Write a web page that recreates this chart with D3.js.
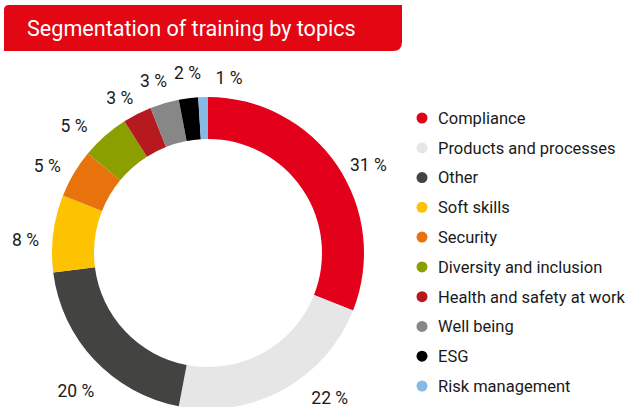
<!DOCTYPE html>
<html>
<head>
<meta charset="utf-8">
<script src="https://cdn.jsdelivr.net/npm/d3@7"></script>
<style>
	body { margin: 0; background: #fff; }
	svg { display: block; }
	text { font-family: Roboto, "Open Sans", sans-serif; }
</style>
</head>
<body>
<svg id="chart" width="627" height="407"></svg>
<script>
const title = "Segmentation of training by topics";
const topics = ["Compliance", "Products and processes", "Other", "Soft skills", "Security",
	"Diversity and inclusion", "Health and safety at work", "Well being", "ESG", "Risk management"];
const shares = [31, 22, 20, 8, 5, 5, 3, 3, 2, 1];
const colours = ["#e2001a", "#e6e6e6", "#434341", "#fdc300", "#e8730c",
	"#8b9f00", "#b61a1f", "#878787", "#000000", "#86b9e3"];

const svg = d3.select("#chart");
const cx = 208, cy = 253;
const outerR = 156, innerR = 114, labelR = 183;

// label tweaks (degrees, px) so they sit like in the original
const labelNudge = [[5.4, 0], [-11.3, 6], [-3, 8], [-3, 0], [-2, 0], [-5, 2], [-2.5, -4], [-1.3, -2], [0.7, -2], [8.6, -6]];

// title banner: rounded top-left and bottom-right
function banner(x, y, w, h, r1, r2) {
	return `M${x + r1},${y} H${x + w} V${y + h - r2} Q${x + w},${y + h} ${x + w - r2},${y + h}` +
		` H${x} V${y + r1} Q${x},${y} ${x + r1},${y} Z`;
}
svg.append("path")
	.attr("d", banner(4, 5, 398, 46, 5, 9))
	.attr("fill", "#e30613");
svg.append("text")
	.attr("x", 27)
	.attr("y", 36)
	.attr("fill", "#fff")
	.attr("font-size", 21.6)
	.text(title);

const pie = d3.pie().sort(null).value(d => d);
const arc = d3.arc().innerRadius(innerR).outerRadius(outerR);
const arcs = pie(shares);

const g = svg.append("g").attr("transform", `translate(${cx},${cy})`);
g.selectAll("path.slice")
	.data(arcs)
	.join("path")
	.attr("class", "slice")
	.attr("d", arc)
	.attr("fill", (d, i) => colours[i]);

g.selectAll("text.lbl")
	.data(arcs)
	.join("text")
	.attr("class", "lbl")
	.attr("transform", (d, i) => {
		const a = (d.startAngle + d.endAngle) / 2 + labelNudge[i][0] * Math.PI / 180;
		const r = labelR + labelNudge[i][1];
		return `translate(${r * Math.sin(a)},${-r * Math.cos(a)})`;
	})
	.attr("text-anchor", "middle")
	.attr("dy", "0.36em")
	.attr("font-size", 17.5)
	.attr("fill", "#1a1a1a")
	.text(d => d.data + " %");

const legendY = d3.scalePoint().domain(topics).range([118, 386]);
const legend = svg.append("g");
legend.selectAll("circle")
	.data(topics)
	.join("circle")
	.attr("cx", 422)
	.attr("cy", d => legendY(d))
	.attr("r", 5.5)
	.attr("fill", (d, i) => colours[i]);
legend.selectAll("text")
	.data(topics)
	.join("text")
	.attr("x", 438)
	.attr("y", d => legendY(d))
	.attr("dy", "0.36em")
	.attr("font-size", 16.5)
	.attr("fill", "#1a1a1a")
	.text(d => d);
</script>
</body>
</html>
